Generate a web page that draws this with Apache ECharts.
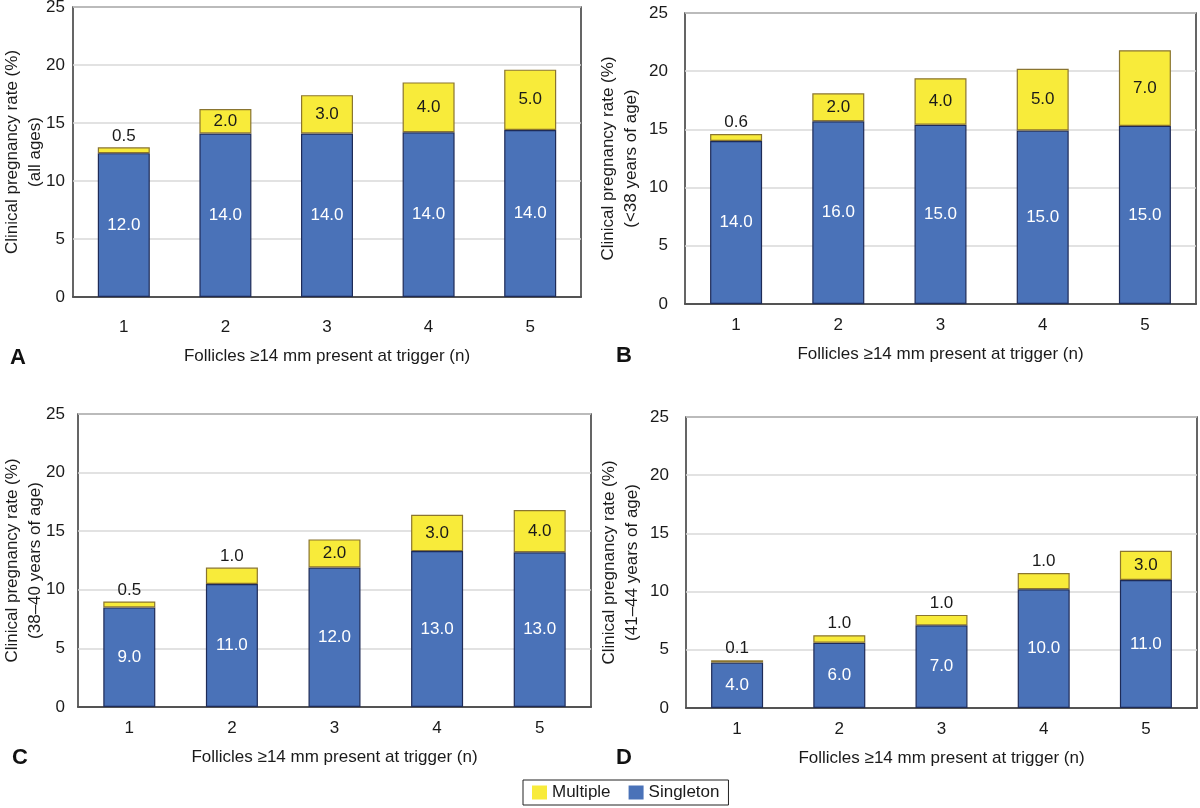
<!DOCTYPE html>
<html>
<head>
<meta charset="utf-8">
<script src="https://cdn.jsdelivr.net/npm/echarts@6/dist/echarts.min.js"></script>
<style>
  html, body { margin: 0; padding: 0; background: #fff; }
  #chart { width: 1200px; height: 808px; }
</style>
</head>
<body>
<div id="chart"></div>
<script>
// ---- Data ----
const categories = ['1', '2', '3', '4', '5'];
const panelLetters = ['A', 'B', 'C', 'D'];
const panelSubtitles = ['(all ages)', '(<38 years of age)', '(38\u201340 years of age)', '(41\u201344 years of age)'];
const yTicks = [0, 5, 10, 15, 20, 25];

// bar heights
const singletonA = [12.4, 14.1, 14.1, 14.2, 14.4];
const multipleA  = [0.5, 2.1, 3.3, 4.3, 5.2];
const singletonB = [14.0, 15.7, 15.4, 14.9, 15.3];
const multipleB  = [0.6, 2.4, 4.0, 5.3, 6.5];
const singletonC = [8.5, 10.5, 11.9, 13.3, 13.2];
const multipleC  = [0.5, 1.4, 2.4, 3.1, 3.6];
const singletonD = [3.9, 5.6, 7.1, 10.2, 11.0];
const multipleD  = [0.2, 0.65, 0.9, 1.4, 2.5];

// printed labels
const singletonLabelsA = ['12.0', '14.0', '14.0', '14.0', '14.0'];
const multipleLabelsA  = ['0.5', '2.0', '3.0', '4.0', '5.0'];
const singletonLabelsB = ['14.0', '16.0', '15.0', '15.0', '15.0'];
const multipleLabelsB  = ['0.6', '2.0', '4.0', '5.0', '7.0'];
const singletonLabelsC = ['9.0', '11.0', '12.0', '13.0', '13.0'];
const multipleLabelsC  = ['0.5', '1.0', '2.0', '3.0', '4.0'];
const singletonLabelsD = ['4.0', '6.0', '7.0', '10.0', '11.0'];
const multipleLabelsD  = ['0.1', '1.0', '1.0', '1.0', '3.0'];

const singletons = [singletonA, singletonB, singletonC, singletonD];
const multiples = [multipleA, multipleB, multipleC, multipleD];
const singletonLabels = [singletonLabelsA, singletonLabelsB, singletonLabelsC, singletonLabelsD];
const multipleLabels = [multipleLabelsA, multipleLabelsB, multipleLabelsC, multipleLabelsD];

// ---- Layout ----
const FONT = "'Liberation Sans', Arial, Helvetica, sans-serif";
const TXT = '#1a1a1a';
const FS = 17;
const grids = [
  { left: 73,  top: 7,   width: 508, height: 290 },
  { left: 685, top: 13,  width: 511, height: 291 },
  { left: 78,  top: 414, width: 513, height: 293 },
  { left: 686, top: 417, width: 511, height: 291 }
];
const yLabelMargin = [8, 17, 13, 17];
const yNameGap = [26, 42, 31, 42];
const xLabelMargin = [22, 13, 13, 13];
const xNameGap = [51, 42, 42, 42];
const letterPos = [[10, 347], [616, 345], [12, 747], [616, 747]];

const xAxes = [], yAxes = [], series = [], graphics = [];
for (let i = 0; i < 4; i++) {
  xAxes.push({
    type: 'category', gridIndex: i, data: categories,
    name: 'Follicles \u226514 mm present at trigger (n)',
    nameLocation: 'middle', nameGap: xNameGap[i], nameMoveOverlap: false,
    nameTextStyle: { fontFamily: FONT, fontSize: FS, color: TXT },
    axisTick: { show: false },
    axisLine: { lineStyle: { color: '#333', width: 1.5 } },
    axisLabel: { fontFamily: FONT, fontSize: FS, color: TXT, margin: xLabelMargin[i] }
  });
  yAxes.push({
    type: 'value', gridIndex: i, min: yTicks[0], max: yTicks[yTicks.length - 1], interval: 5,
    name: 'Clinical pregnancy rate (%)\n' + panelSubtitles[i],
    nameLocation: 'middle', nameGap: yNameGap[i], nameRotate: 90, nameMoveOverlap: false,
    nameTextStyle: { fontFamily: FONT, fontSize: FS, color: TXT, lineHeight: 23 },
    axisLine: { show: false },
    axisTick: { show: false },
    axisLabel: { fontFamily: FONT, fontSize: FS, color: TXT, margin: yLabelMargin[i] },
    splitLine: { show: true, lineStyle: { color: '#d9d9d9', width: 1.5 } }
  });
  const sLab = singletonLabels[i], mLab = multipleLabels[i];
  series.push({
    type: 'bar', name: 'Singleton', xAxisIndex: i, yAxisIndex: i, stack: 'st' + i,
    barWidth: 52,
    data: singletons[i],
    itemStyle: { color: '#4a72b8', borderColor: '#1e2b57', borderWidth: 1.2 },
    label: {
      show: true, position: 'inside', color: '#ffffff', fontFamily: FONT, fontSize: FS,
      formatter: p => sLab[p.dataIndex]
    },
    emphasis: { disabled: true }
  });
  series.push({
    type: 'bar', name: 'Multiple', xAxisIndex: i, yAxisIndex: i, stack: 'st' + i,
    barWidth: 52,
    data: multiples[i].map(v => ({ value: v, label: { position: v >= 2 ? 'inside' : 'top', distance: 3 } })),
    itemStyle: { color: '#f8eb3a', borderColor: '#8a7530', borderWidth: 1.2 },
    label: {
      show: true, color: TXT, fontFamily: FONT, fontSize: FS,
      formatter: p => mLab[p.dataIndex]
    },
    emphasis: { disabled: true }
  });
  graphics.push({
    type: 'text', left: letterPos[i][0], top: letterPos[i][1],
    style: { text: panelLetters[i], fontFamily: FONT, fontSize: 22, fontWeight: 'bold', fill: '#111' }
  });
}

const chart = echarts.init(document.getElementById('chart'), null, { renderer: 'canvas' });
chart.setOption({
  animation: false,
  backgroundColor: '#ffffff',
  textStyle: { fontFamily: FONT },
  grid: grids.map(g => Object.assign({ show: true, borderColor: '#333', borderWidth: 1.5, backgroundColor: 'transparent', containLabel: false, outerBoundsMode: 'none' }, g)),
  xAxis: xAxes,
  yAxis: yAxes,
  legend: {
    data: ['Multiple', 'Singleton'],
    left: 523, top: 780,
    orient: 'horizontal',
    icon: 'rect',
    itemWidth: 15, itemHeight: 14, itemGap: 18,
    padding: [4, 9, 4, 9],
    borderColor: '#222', borderWidth: 1,
    itemStyle: { borderWidth: 0 },
    textStyle: { fontFamily: FONT, fontSize: FS, color: TXT },
    selectedMode: false
  },
  graphic: graphics,
  series: series
});
</script>
</body>
</html>
